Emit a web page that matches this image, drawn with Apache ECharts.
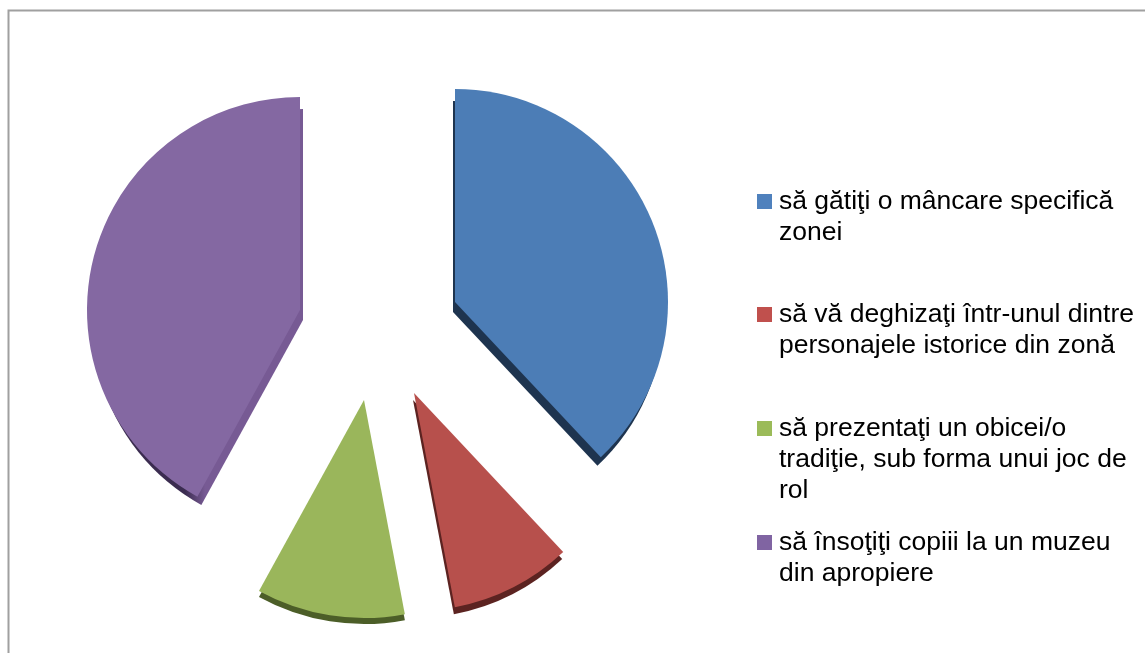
<!DOCTYPE html>
<html><head><meta charset="utf-8">
<style>html,body{margin:0;padding:0;background:#fff}#c{width:1145px;height:653px}</style>
<script src="https://cdn.jsdelivr.net/npm/echarts@6/dist/echarts.min.js"></script>
</head><body><div id="c"></div>
<script>
const categories = [
  'să gătiţi o mâncare specifică\nzonei',
  'să vă deghizaţi într-unul dintre\npersonajele istorice din zonă',
  'să prezentaţi un obicei/o\ntradiţie, sub forma unui joc de\nrol',
  'să însoţiţi copiii la un muzeu\ndin apropiere'
];
const values = [38, 9, 11, 42];

const frontColors = ['#4c7db6', '#b7504c', '#9ab65b', '#8468a2'];
const legendColors = ['#4f81bd', '#c0504d', '#9bbb59', '#8064a2'];
const sideColors = [
  '#1e344f', '#5c2321', '#4c5e28',
  {type:'linear', global:true, x:185, y:0, x2:205, y2:0,
   colorStops:[{offset:0,color:'#3b2c50'},{offset:1,color:'#775a94'}]}
];
const centers = [[455,302],[414,393],[364,400],[300,310]];
const radii = [213,218,218,213];
const sideRadii = [211,218,218,211];
const depth = [[-2,10],[-1,7],[0,6],[3,10]];
const legendTops = [186,299,413,527];
const legendLines = [2,2,3,2];
const LINE = 31;

function slice(i, center, r, color, name){
  return {
    type:'pie', name, silent:true, animation:false,
    center, radius:[0,r], startAngle:90, clockwise:true,
    label:{show:false}, labelLine:{show:false},
    data: categories.map((c,j)=>({
      name:c, value:values[j],
      itemStyle:{color: j===i ? color : 'rgba(0,0,0,0)'}
    }))
  };
}
const sides = values.map((_,i)=>slice(i,[centers[i][0]+depth[i][0],centers[i][1]+depth[i][1]],sideRadii[i],sideColors[i],'side'+i));
const fronts = values.map((_,i)=>slice(i,centers[i],radii[i],frontColors[i],'front'+i));

const legends = categories.map((c,i)=>{
  const h = legendLines[i]*LINE;
  return {
    orient:'vertical', left:757, top:legendTops[i], padding:0,
    itemWidth:17, itemHeight:h, symbolKeepAspect:false, selectedMode:false,
    textStyle:{fontFamily:'Liberation Sans, Arial, sans-serif', fontSize:26.5, lineHeight:LINE, color:'#000'},
    data:[{name:c, icon:`path://M0 8H15V23H0Z M0 0H.01V.01H0Z M17 ${h}H16.99V${h-0.01}H17Z`, itemStyle:{color:legendColors[i]}}]
  };
});

const chart = echarts.init(document.getElementById('c'),null,{renderer:'canvas'});
chart.setOption({
  animation:false, backgroundColor:'#fff',
  legend:legends,
  graphic:[{type:'rect', silent:true, shape:{x:8.5,y:10.5,width:1400,height:900},
    style:{fill:'none',stroke:'#a0a0a0',lineWidth:2}}],
  series:[...sides,...fronts]
});
</script></body></html>
